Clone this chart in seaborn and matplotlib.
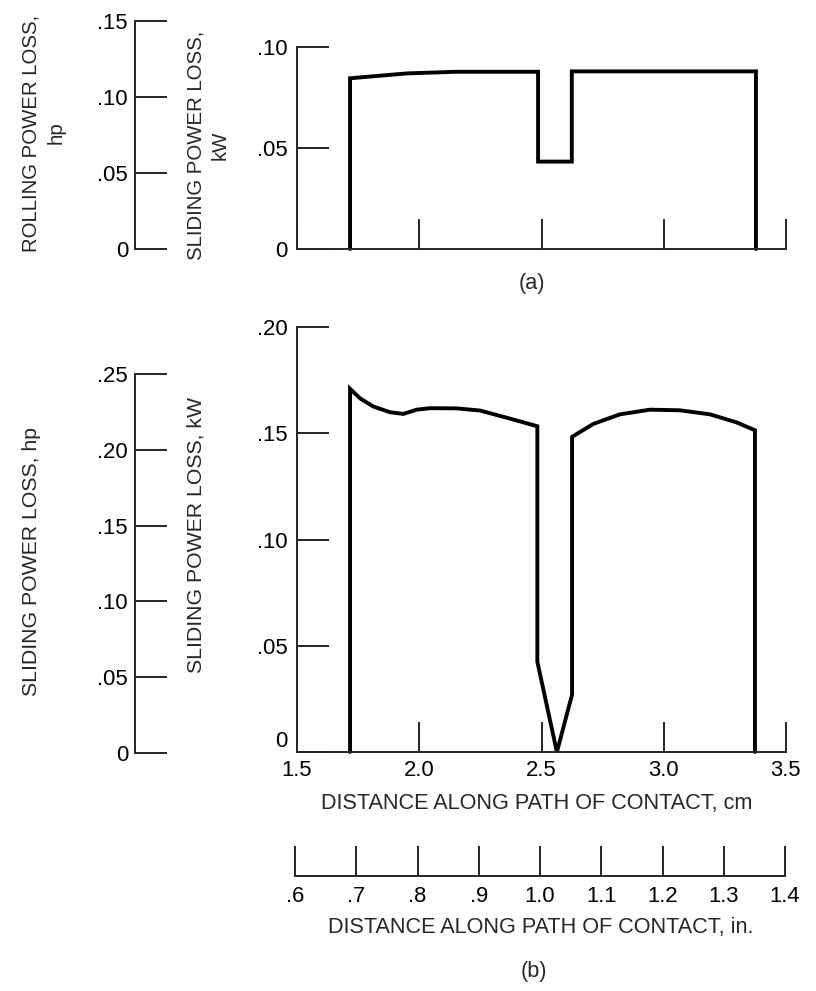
import matplotlib
matplotlib.use("Agg")
import matplotlib.pyplot as plt
from matplotlib import font_manager
import seaborn as sns

# (a) power loss along path of contact
top_cm = [1.717, 1.717, 1.95, 2.15, 2.486, 2.486, 2.624, 2.624, 3.377, 3.377]
top_kw = [0.0, 0.0844, 0.0868, 0.0876, 0.0876, 0.0432, 0.0432, 0.0878, 0.0878, 0.0]

# (b) sliding power loss along path of contact
bot_cm = [1.717, 1.717, 1.758, 1.812, 1.880, 1.935, 1.990, 2.044, 2.153, 2.248,
          2.358, 2.483, 2.483, 2.563, 2.625, 2.625, 2.712, 2.821, 2.944, 3.066,
          3.189, 3.298, 3.373, 3.373]
bot_kw = [0.0, 0.1709, 0.1664, 0.1626, 0.1599, 0.1591, 0.1611, 0.1618, 0.1617, 0.1607,
          0.1573, 0.1533, 0.0425, 0.0, 0.027, 0.1483, 0.1544, 0.1589, 0.1611, 0.1608,
          0.1589, 0.1551, 0.1514, 0.0]

top_kw_ticks = [0, 0.05, 0.10]
top_kw_labels = ["0", ".05", ".10"]
top_hp_ticks = [0, 0.05, 0.10, 0.15]
top_hp_labels = ["0", ".05", ".10", ".15"]

bot_kw_ticks = [0, 0.05, 0.10, 0.15, 0.20]
bot_kw_labels = ["0", ".05", ".10", ".15", ".20"]
bot_hp_ticks = [0, 0.05, 0.10, 0.15, 0.20, 0.25]
bot_hp_labels = ["0", ".05", ".10", ".15", ".20", ".25"]

cm_ticks = [1.5, 2.0, 2.5, 3.0, 3.5]
cm_labels = ["1.5", "2.0", "2.5", "3.0", "3.5"]
in_ticks = [0.6, 0.7, 0.8, 0.9, 1.0, 1.1, 1.2, 1.3, 1.4]
in_labels = [".6", ".7", ".8", ".9", "1.0", "1.1", "1.2", "1.3", "1.4"]

sns.set_theme(style="ticks")

available = {f.name for f in font_manager.fontManager.ttflist}
if "Liberation Sans Narrow" in available:
    font = "Liberation Sans Narrow"
    scale = 1.0
else:
    font = "Liberation Sans"
    scale = 0.84
plt.rcParams["font.family"] = [font, "DejaVu Sans"]
plt.rcParams["axes.linewidth"] = 1.4

FS_TICK = 19 * scale
FS_LAB = 18.5 * scale
FS_YLAB = 17.5 * scale

W, H = 816, 991
fig = plt.figure(figsize=(W / 100, H / 100), dpi=100)
fig.patch.set_facecolor("white")


def box(left, right, top, bottom):
    return [left / W, 1 - bottom / H, (right - left) / W, (bottom - top) / H]


def style_axis(ax, show_bottom=True):
    for side in ["top", "right"]:
        ax.spines[side].set_visible(False)
    if not show_bottom:
        ax.spines["bottom"].set_visible(False)
    ax.set_facecolor("none")
    ax.tick_params(axis="both", direction="in", color="black", labelcolor="black",
                   labelsize=FS_TICK, width=1.2)
    ax.tick_params(axis="y", length=23, pad=6.5)
    ax.tick_params(axis="x", length=21.5, pad=6)


def hp_axis(left, top, bottom, ticks, labels):
    ax = fig.add_axes(box(left, left + 40, top, bottom))
    style_axis(ax, show_bottom=False)
    ax.set_ylim(0, ticks[-1])
    ax.set_yticks(ticks)
    ax.set_yticklabels(labels)
    ax.set_xticks([])
    ax.tick_params(axis="y", pad=5)
    return ax


# ---- (a) ----
ax_a = fig.add_axes(box(297, 786, 46.7, 249))
style_axis(ax_a)
sns.lineplot(x=top_cm, y=top_kw, sort=False, estimator=None, color="black",
             linewidth=2.8, ax=ax_a, clip_on=False)
ax_a.set_xlim(1.5, 3.5)
ax_a.set_ylim(0, 0.10)
ax_a.set_xticks(cm_ticks)
ax_a.set_yticks(top_kw_ticks)
ax_a.set_yticklabels(top_kw_labels)
ax_a.tick_params(axis="x", labelbottom=False)

hp_axis(135, 21, 249, top_hp_ticks, top_hp_labels)

fig.text(44 / W, 1 - 133 / H, "ROLLING POWER LOSS,\nhp", rotation=90,
         ha="center", va="center", multialignment="center", fontsize=FS_YLAB,
         linespacing=1.4)
fig.text(208 / W, 1 - 145 / H, "SLIDING POWER LOSS,\nkW", rotation=90,
         ha="center", va="center", multialignment="center", fontsize=FS_YLAB,
         linespacing=1.4)
fig.text(532 / W, 1 - 283 / H, "(a)", ha="center", va="center", fontsize=FS_LAB)

# ---- (b) ----
ax_b = fig.add_axes(box(297, 786, 327, 752))
style_axis(ax_b)
sns.lineplot(x=bot_cm, y=bot_kw, sort=False, estimator=None, color="black",
             linewidth=2.8, ax=ax_b, clip_on=False)
ax_b.set_xlim(1.5, 3.5)
ax_b.set_ylim(0, 0.20)
ax_b.set_xticks(cm_ticks)
ax_b.set_xticklabels(cm_labels)
ax_b.set_yticks(bot_kw_ticks)
ax_b.set_yticklabels(bot_kw_labels)
# the zero label sits just above the corner so it clears the "1.5"
ax_b.get_yticklabels()[0].set_va("bottom")
for line in ax_a.lines + ax_b.lines:
    line.set_solid_joinstyle("miter")

hp_axis(135, 374, 753, bot_hp_ticks, bot_hp_labels)

fig.text(32 / W, 1 - 561 / H, "SLIDING POWER LOSS, hp", rotation=90,
         ha="center", va="center", fontsize=FS_YLAB * 1.04)
fig.text(196 / W, 1 - 535 / H, "SLIDING POWER LOSS, kW", rotation=90,
         ha="center", va="center", fontsize=FS_YLAB * 1.04)
fig.text(537 / W, 1 - 803 / H, "DISTANCE ALONG PATH OF CONTACT, cm",
         ha="center", va="center", fontsize=FS_LAB)

# inch scale
ax_in = fig.add_axes(box(295, 785, 836, 876))
style_axis(ax_in)
ax_in.spines["left"].set_visible(False)
ax_in.set_xlim(0.6, 1.4)
ax_in.set_xticks(in_ticks)
ax_in.set_xticklabels(in_labels)
ax_in.set_yticks([])
ax_in.tick_params(axis="x", pad=7)

fig.text(541 / W, 1 - 927 / H, "DISTANCE ALONG PATH OF CONTACT, in.",
         ha="center", va="center", fontsize=FS_LAB)
fig.text(534 / W, 1 - 972 / H, "(b)", ha="center", va="center", fontsize=FS_LAB)

fig.savefig("out.png", dpi=100, facecolor="white")
